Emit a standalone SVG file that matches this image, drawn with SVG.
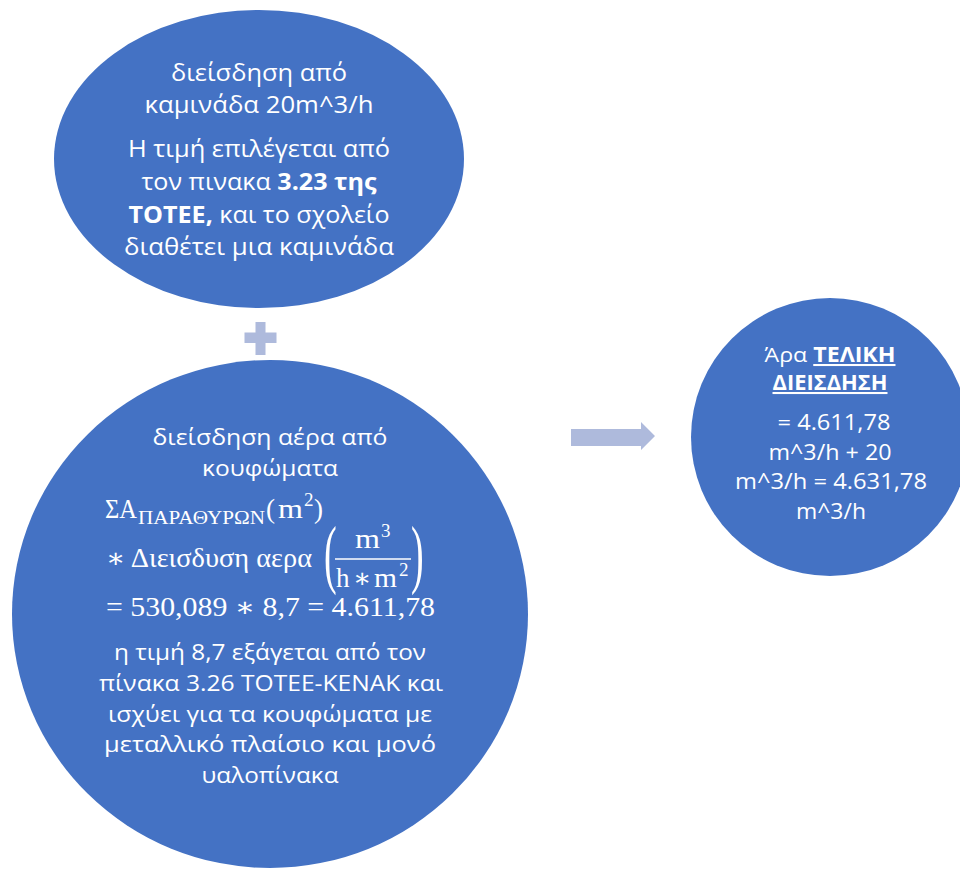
<svg xmlns="http://www.w3.org/2000/svg" width="960" height="870" viewBox="0 0 960 870">
  <style>
    .shape { fill: #4472C4; }
    .conn { fill: #AEBADC; }
    .t { font-family: "Open Sans", "Noto Sans", "DejaVu Sans", sans-serif; font-size: 23px; fill: #FFFFFF; text-anchor: middle; }
    .tb { font-size: 22.5px; }
    .tr { font-size: 21px; }
    .th { font-size: 20.5px; }
    .b { font-weight: bold; }
    .u { text-decoration: underline; }
    .m { font-family: "Liberation Serif", "DejaVu Serif", serif; fill: #FFFFFF; font-size: 27px; }
    .ms { font-family: "Liberation Serif", "DejaVu Serif", serif; fill: #FFFFFF; font-size: 19px; }
    .big { font-family: "Liberation Serif", "DejaVu Serif", serif; fill: #FFFFFF; font-size: 76px; }
  </style>
  <rect width="960" height="870" fill="#FFFFFF"/>

  <g id="node-chimney">
    <ellipse class="shape" cx="259" cy="159" rx="205" ry="149"/>
    <text class="t" x="259" y="81" textLength="176" lengthAdjust="spacingAndGlyphs">διείσδηση από</text>
    <text class="t" x="259" y="113" textLength="229" lengthAdjust="spacingAndGlyphs">καμινάδα 20m^3/h</text>
    <text class="t" x="259" y="157" textLength="262" lengthAdjust="spacingAndGlyphs">Η τιμή επιλέγεται από</text>
    <text class="t" x="259" y="190" textLength="235" lengthAdjust="spacingAndGlyphs">τον πινακα <tspan class="b">3.23 της</tspan></text>
    <text class="t" x="259" y="223" textLength="261" lengthAdjust="spacingAndGlyphs"><tspan class="b">ΤΟΤΕΕ,</tspan> και το σχολείο</text>
    <text class="t" x="259" y="255" textLength="270" lengthAdjust="spacingAndGlyphs">διαθέτει μια καμινάδα</text>
  </g>

  <g id="node-windows">
    <ellipse class="shape" cx="270" cy="614" rx="258" ry="254"/>
    <text class="t tb" x="270" y="445" textLength="235" lengthAdjust="spacingAndGlyphs">διείσδηση αέρα από</text>
    <text class="t tb" x="270" y="476" textLength="136" lengthAdjust="spacingAndGlyphs">κουφώματα</text>
    <!-- formula -->
    <text class="m" x="105" y="518" textLength="32" lengthAdjust="spacingAndGlyphs">ΣΑ</text>
    <text class="ms" x="138" y="524" textLength="127" lengthAdjust="spacingAndGlyphs">ΠΑΡΑΘΥΡΩΝ</text>
    <text class="m" x="266" y="518">(</text>
    <text class="m" x="278" y="518" textLength="25" lengthAdjust="spacingAndGlyphs">m</text>
    <text class="ms" x="304" y="506">2</text>
    <text class="m" x="314" y="518">)</text>
    <text class="m" x="106" y="567" textLength="206" lengthAdjust="spacingAndGlyphs">∗ Διεισδυση αερα</text>
    <text class="big" transform="translate(324,579) scale(0.5,1)">(</text>
    <text class="m" x="355" y="548" textLength="25" lengthAdjust="spacingAndGlyphs">m</text>
    <text class="ms" x="381" y="537">3</text>
    <line x1="335" y1="559" x2="411" y2="559" stroke="#FFFFFF" stroke-width="1.5"/>
    <text class="m" x="336" y="587">h</text>
    <text class="m" x="353" y="587">∗</text>
    <text class="m" x="374" y="587" textLength="23" lengthAdjust="spacingAndGlyphs">m</text>
    <text class="ms" x="399" y="576">2</text>
    <text class="big" transform="translate(411,579) scale(0.5,1)">)</text>
    <text class="m" x="106" y="616" textLength="329" lengthAdjust="spacingAndGlyphs">= 530,089 ∗ 8,7 = 4.611,78</text>
    <text class="t tb" x="270" y="660" textLength="312" lengthAdjust="spacingAndGlyphs">η τιμή 8,7 εξάγεται από τον</text>
    <text class="t tb" x="271" y="691" textLength="344" lengthAdjust="spacingAndGlyphs">πίνακα 3.26 ΤΟΤΕΕ-ΚΕΝΑΚ και</text>
    <text class="t tb" x="270" y="722" textLength="324" lengthAdjust="spacingAndGlyphs">ισχύει για τα κουφώματα με</text>
    <text class="t tb" x="270" y="752" textLength="332" lengthAdjust="spacingAndGlyphs">μεταλλικό πλαίσιο και μονό</text>
    <text class="t tb" x="270" y="783" textLength="137" lengthAdjust="spacingAndGlyphs">υαλοπίνακα</text>
  </g>

  <g id="node-result">
    <circle class="shape" cx="830" cy="437" r="139"/>
    <text class="t th" x="830" y="362" textLength="131" lengthAdjust="spacingAndGlyphs">Άρα <tspan class="b u">ΤΕΛΙΚΗ</tspan></text>
    <text class="t th" x="830" y="390" textLength="115" lengthAdjust="spacingAndGlyphs"><tspan class="b u">ΔΙΕΙΣΔΗΣΗ</tspan></text>
    <text class="t tr" x="834" y="430" textLength="113" lengthAdjust="spacingAndGlyphs">= 4.611,78</text>
    <text class="t tr" x="830" y="460" textLength="123" lengthAdjust="spacingAndGlyphs">m^3/h + 20</text>
    <text class="t tr" x="831" y="489" textLength="192" lengthAdjust="spacingAndGlyphs">m^3/h = 4.631,78</text>
    <text class="t tr" x="831" y="519" textLength="70" lengthAdjust="spacingAndGlyphs">m^3/h</text>
  </g>

  <g id="connectors">
    <path id="plus" class="conn" d="M255.5,322 H265.5 V332.5 H276.5 V343 H265.5 V355 H255.5 V343 H244.5 V332.5 H255.5 Z"/>
    <path id="arrow" class="conn" d="M571,429 H641 V422 L655,436 L641,450 V446 H571 Z"/>
  </g>
</svg>
